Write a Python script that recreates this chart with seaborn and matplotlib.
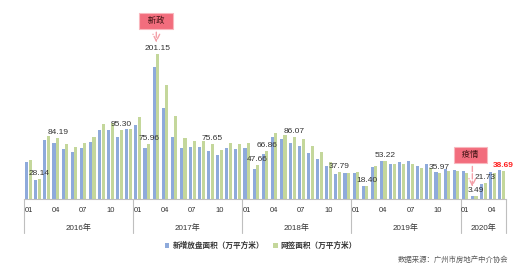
import numpy as np
import pandas as pd
import seaborn as sns
import matplotlib.pyplot as plt

# monthly data, 2016-01 .. 2020-05
years = ["2016", "2017", "2018", "2019", "2020"]
months_per_year = [12, 12, 12, 12, 5]
month_ticks = ["01", "04", "07", "10"]

new_listing = [
    51, 26, 82, 78, 69, 65, 71, 79, 95, 96, 86, 97,
    102, 70, 183, 126, 86, 71, 72, 72, 67, 61, 70, 69,
    70, 42, 62, 86, 83, 77, 73.5, 64, 55.5, 46, 34, 36.5,
    35.6, 17.5, 44, 52, 48.5, 51, 52, 46, 48, 38, 41.6, 40,
    39, 4.2, 21, 37, 40,
]
signed = [
    54, 28.14, 87, 84.19, 76, 72, 77, 86, 104, 105, 95.30, 97.5,
    114, 75.96, 201.15, 158, 115, 85, 81, 80, 75.65, 68, 77, 76,
    77, 47.66, 66.86, 92, 88, 86.07, 83, 73.5, 65, 51, 37.79, 36.5,
    37, 18.40, 46, 53.22, 48, 48, 48, 42.5, 43.5, 35.97, 39, 39,
    36.5, 3.49, 21.73, 36.5, 38.69,
]
# months whose 网签面积 value is printed
label_idx = [1, 3, 10, 13, 14, 20, 25, 26, 29, 34, 37, 39, 45, 49, 50, 52]

series_names = ["新增放盘面积（万平方米）", "网签面积（万平方米）"]
colors = ["#8EAADB", "#C4D79B"]

months = []
for y, n in zip(years, months_per_year):
    months += [f"{y}-{m:02d}" for m in range(1, n + 1)]

df = pd.DataFrame({
    "month": months * 2,
    "value": new_listing + signed,
    "series": [series_names[0]] * len(months) + [series_names[1]] * len(months),
})

sns.set_theme(style="white")
plt.rcParams["font.family"] = ["Liberation Sans", "Noto Sans CJK SC"]

fig = plt.figure(figsize=(5.27, 2.70), dpi=100)
ax = fig.add_axes([24 / 527, 1 - 199 / 270, 482 / 527, 179 / 270])

sns.barplot(data=df, x="month", y="value", hue="series", hue_order=series_names,
            palette=colors, saturation=1, width=0.8, gap=0.15, linewidth=0, ax=ax)

ax.set_xlim(-0.5, len(months) - 0.5)
ax.set_ylim(0, 248)
for s in ["top", "right", "left"]:
    ax.spines[s].set_visible(False)
ax.spines["bottom"].set_color("#BFBFBF")
ax.spines["bottom"].set_linewidth(0.8)
ax.set_xticks([])
ax.set_yticks([])
ax.set_xlabel("")
ax.set_ylabel("")

# value labels above green bars
green_bars = ax.containers[1]
for i in label_idx:
    p = green_bars[i]
    cx = p.get_x() + p.get_width() / 2
    last = i == len(months) - 1
    ax.annotate(f"{signed[i]:.2f}", (cx, p.get_height()), xytext=(0, 1.5),
                textcoords="offset points", ha="center", va="bottom",
                fontsize=6, color="#FF2020" if last else "#333333",
                fontweight="bold" if last else "normal")

# two-level category axis
trans = ax.get_xaxis_transform()
start = 0
bounds = [-0.5]
for y, n in zip(years, months_per_year):
    for k in range(n):
        m = f"{k + 1:02d}"
        if m in month_ticks:
            ax.text(start + k, -0.065, m, transform=trans, ha="center", va="center",
                    fontsize=5.5, color="#333333")
    ax.text(start + (n - 1) / 2, -0.16, y + "年", transform=trans, ha="center",
            va="center", fontsize=5.8, color="#333333")
    start += n
    bounds.append(start - 0.5)
for b in bounds:
    ax.plot([b, b], [0, -0.19], transform=trans, color="#BFBFBF", lw=0.8, clip_on=False)

# event annotations
box_kw = dict(boxstyle="square,pad=0.45", fc="#F26D7D", ec="#F9B7BE", lw=0.8)
arrow_kw = dict(arrowstyle="->", color="#F4A0A8", ls="--", lw=1)
ax.annotate("", xy=(14.05, 213), xytext=(14.05, 235), arrowprops=arrow_kw, annotation_clip=False)
ax.text(14.05, 247, "  新政  ", ha="center", va="center", fontsize=6, color="#3A1010",
        bbox=box_kw, clip_on=False)
ax.annotate("", xy=(48.8, 13), xytext=(48.8, 49), arrowprops=arrow_kw, annotation_clip=False)
ax.text(48.6, 61, "  疫情  ", ha="center", va="center", fontsize=6, color="#3A1010", bbox=box_kw)

# legend at bottom centre
sns.move_legend(ax, "center", bbox_to_anchor=(0.495, 0.089), bbox_transform=fig.transFigure,
                ncol=2, frameon=False, title=None, fontsize=5.5, handlelength=0.6,
                handleheight=0.6, handletextpad=0.4, columnspacing=1.2)
for t in ax.get_legend().get_texts():
    t.set_fontweight("bold")
    t.set_color("#333333")

fig.text(508 / 527, 0.037, "数据来源：广州市房地产中介协会", ha="right", va="center",
         fontsize=5.3, color="#595959")

fig.savefig("out.png", dpi=100)
